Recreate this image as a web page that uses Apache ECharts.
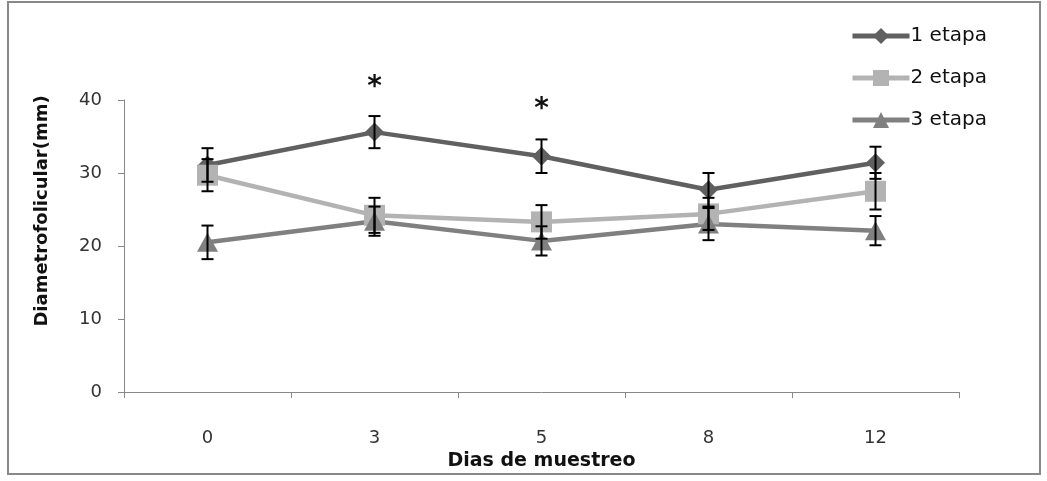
<!DOCTYPE html>
<html><head><meta charset="utf-8">
<script src="https://cdn.jsdelivr.net/npm/echarts@6/dist/echarts.min.js"></script>
<style>html,body{margin:0;padding:0;background:#fff}#c{width:1047px;height:481px}</style>
</head><body><div id="c"></div>
<script>
var categories = ['0','3','5','8','12'];
var s1 = [31.1, 35.6, 32.3, 27.7, 31.4];
var s1err = [2.3, 2.2, 2.3, 2.3, 2.2];
var s2 = [29.7, 24.2, 23.3, 24.4, 27.5];
var s2err = [2.2, 2.4, 2.3, 2.2, 2.5];
var s3 = [20.5, 23.4, 20.7, 23.0, 22.1];
var s3err = [2.3, 2.0, 2.0, 2.2, 2.0];
var names = ['1 etapa','2 etapa','3 etapa'];
var colors = ['#606060','#b3b3b3','#808080'];
var stars = [['3', 42.5], ['5', 39.5]];
var yTitle = 'Diametrofolicular(mm)';
var FONT = '"DejaVu Sans", sans-serif';

function errData(v, e){ return v.map(function(x,i){ return [i, x-e[i], x+e[i]]; }); }
function errSeries(v, e){
  return {
    type:'custom', z:5, silent:true,
    data: errData(v,e),
    renderItem: function(params, api){
      var hi = api.coord([api.value(0), api.value(2)]);
      var lo = api.coord([api.value(0), api.value(1)]);
      var w = 6;
      var st = {stroke:'#000', lineWidth:2};
      return {type:'group', children:[
        {type:'line', shape:{x1:hi[0],y1:hi[1],x2:lo[0],y2:lo[1]}, style:st},
        {type:'line', shape:{x1:hi[0]-w,y1:hi[1],x2:hi[0]+w,y2:hi[1]}, style:st},
        {type:'line', shape:{x1:lo[0]-w,y1:lo[1],x2:lo[0]+w,y2:lo[1]}, style:st}
      ]};
    }
  };
}
var chart = echarts.init(document.getElementById('c'));
chart.setOption({
  animation:false,
  grid:{left:124, right:88, top:100, bottom:89, containLabel:false},
  legend:{
    orient:'vertical', left:845, top:21, itemGap:22, itemWidth:57, itemHeight:20,
    lineStyle:{width:5},
    textStyle:{fontFamily:FONT, fontSize:20, color:'#111', padding:[0,0,0,-4]},
    data:names
  },
  xAxis:{
    type:'category', data:categories, boundaryGap:true,
    name:'Dias de muestreo', nameLocation:'middle', nameGap:60,
    nameTextStyle:{fontFamily:FONT, fontSize:19, fontWeight:'bold', color:'#111'},
    axisLine:{lineStyle:{color:'#888', width:1}},
    axisTick:{show:true, inside:false, length:6, lineStyle:{color:'#888'}},
    axisLabel:{margin:37, fontFamily:FONT, fontSize:18, color:'#333'}
  },
  yAxis:{
    type:'value', min:0, max:40, interval:10,
    axisLine:{show:true, lineStyle:{color:'#888', width:1}},
    axisTick:{show:true, length:6, lineStyle:{color:'#888'}},
    splitLine:{show:false},
    axisLabel:{margin:22, fontFamily:FONT, fontSize:18, color:'#333'}
  },
  series:[
    {name:names[0], type:'line', data:s1, symbol:'diamond', symbolSize:[19,19], z:3,
     lineStyle:{width:4.5, color:colors[0]}, itemStyle:{color:colors[0]}},
    {name:names[1], type:'line', data:s2, symbol:'rect', symbolSize:21, z:3,
     lineStyle:{width:4.5, color:colors[1]}, itemStyle:{color:colors[1]}},
    {name:names[2], type:'line', data:s3, symbol:'triangle', symbolSize:[21,19], z:3,
     lineStyle:{width:4.5, color:colors[2]}, itemStyle:{color:colors[2]}},
    errSeries(s1, s1err), errSeries(s2, s2err), errSeries(s3, s3err)
  ]
});
var g = [{type:'rect', shape:{x:8,y:2,width:1032,height:472}, style:{fill:'none', stroke:'#888', lineWidth:2}, z:-1},
  {type:'text', x:42, y:211, rotation:Math.PI/2, style:{text:yTitle, font:'bold 18px ' + FONT, fill:'#111', align:'center', verticalAlign:'middle'}}];
stars.forEach(function(s){
  var p = chart.convertToPixel({seriesIndex:0}, s);
  g.push({type:'text', x:p[0], y:p[1]+6, style:{text:'*', font:'bold 28px ' + FONT, fill:'#111', align:'center', verticalAlign:'middle'}});
});
chart.setOption({graphic:g});
</script></body></html>
